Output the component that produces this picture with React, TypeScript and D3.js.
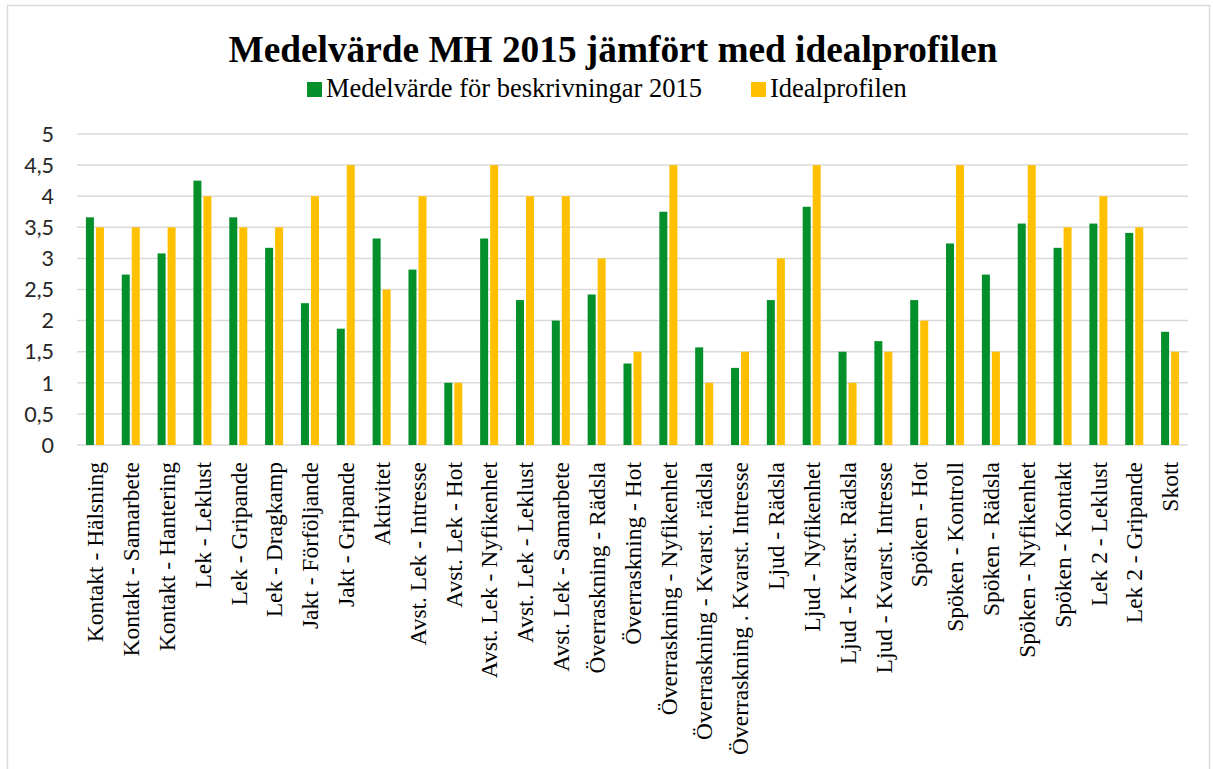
import React, { useRef, useEffect } from 'react';
import * as d3 from 'd3';

const categories = [
  'Kontakt - Hälsning', 'Kontakt - Samarbete', 'Kontakt - Hantering', 'Lek - Leklust',
  'Lek - Gripande', 'Lek - Dragkamp', 'Jakt - Förföljande', 'Jakt - Gripande', 'Aktivitet',
  'Avst. Lek - Intresse', 'Avst. Lek - Hot', 'Avst. Lek - Nyfikenhet', 'Avst. Lek - Leklust',
  'Avst. Lek - Samarbete', 'Överraskning - Rädsla', 'Överraskning - Hot',
  'Överraskning - Nyfikenhet', 'Överraskning - Kvarst. rädsla', 'Överraskning . Kvarst. Intresse',
  'Ljud - Rädsla', 'Ljud - Nyfikenhet', 'Ljud - Kvarst. Rädsla', 'Ljud - Kvarst. Intresse',
  'Spöken - Hot', 'Spöken - Kontroll', 'Spöken - Rädsla', 'Spöken - Nyfikenhet',
  'Spöken - Kontakt', 'Lek 2 - Leklust', 'Lek 2 - Gripande', 'Skott',
];

const medelvarde = [
  3.66, 2.74, 3.08, 4.25, 3.66, 3.17, 2.28, 1.87, 3.32, 2.82, 1.0, 3.32, 2.33, 2.0, 2.42, 1.31,
  3.75, 1.57, 1.24, 2.33, 3.83, 1.5, 1.67, 2.33, 3.24, 2.74, 3.56, 3.17, 3.56, 3.41, 1.82,
];

const idealprofilen = [
  3.5, 3.5, 3.5, 4, 3.5, 3.5, 4, 4.5, 2.5, 4, 1, 4.5, 4, 4, 3, 1.5,
  4.5, 1, 1.5, 3, 4.5, 1, 1.5, 2, 4.5, 1.5, 4.5, 3.5, 4, 3.5, 1.5,
];

const yTicks = [0, 0.5, 1, 1.5, 2, 2.5, 3, 3.5, 4, 4.5, 5];
const seriesNames = ['Medelvärde för beskrivningar 2015', 'Idealprofilen'];
const colors = ['#03902B', '#FFC000'];

export default function App() {
  const svgRef = useRef(null);

  useEffect(() => {
    const width = 1213;
    const height = 769;
    const svg = d3.select(svgRef.current);
    svg.selectAll('*').remove();
    svg.attr('width', width).attr('height', height);

    // chart frame
    svg.append('rect')
      .attr('x', 7.5).attr('y', 5.5)
      .attr('width', 1202).attr('height', height + 10)
      .attr('fill', '#fff').attr('stroke', '#d9d9d9').attr('stroke-width', 1.5);

    const left = 77, right = 1188, top = 134, bottom = 445;

    const x = d3.scaleBand().domain(categories).range([left, right]).paddingInner(0).paddingOuter(0);
    const y = d3.scaleLinear().domain([0, 5]).range([bottom, top]);

    // gridlines
    svg.append('g')
      .selectAll('line')
      .data(yTicks)
      .enter()
      .append('line')
      .attr('x1', left).attr('x2', right)
      .attr('y1', (d) => y(d)).attr('y2', (d) => y(d))
      .attr('stroke', '#d9d9d9').attr('stroke-width', 1.5);

    // y labels
    svg.append('g')
      .selectAll('text')
      .data(yTicks)
      .enter()
      .append('text')
      .attr('x', 54).attr('y', (d) => y(d))
      .attr('dy', '0.36em')
      .attr('text-anchor', 'end')
      .attr('font-family', 'Lato, sans-serif')
      .attr('font-size', 21.5)
      .attr('fill', '#262626')
      .text((d) => String(d).replace('.', ','));

    const barW = 8;
    const gap = 2;
    const series = [medelvarde, idealprofilen];
    series.forEach((vals, si) => {
      svg.append('g')
        .selectAll('rect')
        .data(vals)
        .enter()
        .append('rect')
        .attr('x', (d, i) => x(categories[i]) + x.bandwidth() / 2 - barW - gap / 2 + si * (barW + gap))
        .attr('y', (d) => y(d))
        .attr('width', barW)
        .attr('height', (d) => bottom - y(d))
        .attr('fill', colors[si]);
    });

    // x labels
    svg.append('g')
      .selectAll('text')
      .data(categories)
      .enter()
      .append('text')
      .attr('transform', (d) => `translate(${x(d) + x.bandwidth() / 2},462) rotate(-90)`)
      .attr('dy', '0.35em')
      .attr('text-anchor', 'end')
      .attr('font-family', '"Liberation Serif", serif')
      .attr('font-size', 23.5)
      .attr('fill', '#000')
      .text((d) => d);

    // title
    svg.append('text')
      .attr('x', 613).attr('y', 62)
      .attr('text-anchor', 'middle')
      .attr('font-family', '"Liberation Serif", serif')
      .attr('font-weight', 'bold')
      .attr('font-size', 37.3)
      .text('Medelvärde MH 2015 jämfört med idealprofilen');

    // legend
    const legendX = [307, 751];
    seriesNames.forEach((name, i) => {
      const lg = svg.append('g').attr('transform', `translate(${legendX[i]},97)`);
      lg.append('rect').attr('x', 0).attr('y', -15).attr('width', 15).attr('height', 15).attr('fill', colors[i]);
      lg.append('text')
        .attr('x', 19).attr('y', 0)
        .attr('font-family', '"Liberation Serif", serif')
        .attr('font-size', 26.5)
        .text(name);
    });
  }, []);

  return (
    <div style={{ position: 'absolute', left: 0, top: 0, width: 1213, height: 769, overflow: 'hidden' }}>
      <svg ref={svgRef} style={{ display: 'block' }}></svg>
    </div>
  );
}
